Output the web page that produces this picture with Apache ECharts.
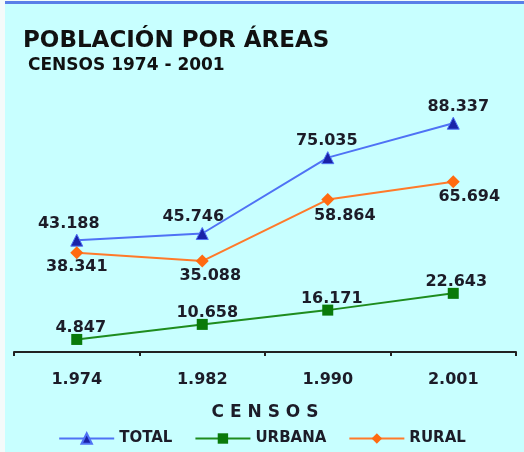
<!DOCTYPE html>
<html><head><meta charset="utf-8">
<script src="https://cdn.jsdelivr.net/npm/echarts@6/dist/echarts.min.js"></script>
<style>html,body{margin:0;padding:0;background:#f4fafa}#c{width:524px;height:452px}</style>
</head><body><div id="c"></div>
<script>
const categories = ['1.974', '1.982', '1.990', '2.001'];
const total = [43188, 45746, 75035, 88337];
const urbana = [4847, 10658, 16171, 22643];
const rural = [38341, 35088, 58864, 65694];
const seriesNames = ['TOTAL', 'URBANA', 'RURAL'];

const FONT = 'DejaVu Sans, Verdana, sans-serif';
const fmt = v => (v / 1000).toFixed(3);
const txt = '#1c1c28';
const labelBase = {show: true, color: txt, fontFamily: FONT, fontWeight: 'bold', fontSize: 16,
  formatter: p => fmt(p.value)};

// build data items with per-point label nudges (style only)
function withLabelShift(values, shifts) {
  return values.map((v, i) => ({value: v, label: {offset: shifts[i]}}));
}

const chart = echarts.init(document.getElementById('c'), null, {renderer: 'canvas'});
chart.setOption({
  backgroundColor: '#f4fafa',
  animation: false,
  graphic: [
    {type: 'rect', shape: {x: 5, y: 3, width: 519, height: 449}, style: {fill: '#c8ffff'}, z: -10},
    {type: 'rect', shape: {x: 5, y: 1, width: 519, height: 3}, style: {fill: '#5a7fe8'}, z: -9}
  ],
  title: [
    {text: 'POBLACIÓN POR ÁREAS', left: 18, top: 25,
     textStyle: {fontFamily: FONT, fontWeight: 'bold', fontSize: 23, color: '#111'}},
    {text: 'CENSOS 1974 - 2001', left: 23, top: 52,
     textStyle: {fontFamily: FONT, fontWeight: 'bold', fontSize: 17, color: '#111'}}
  ],
  legend: {
    bottom: 1, left: 'center', itemGap: 22, itemWidth: 55, itemHeight: 13,
    textStyle: {fontFamily: FONT, fontWeight: 'bold', fontSize: 15, color: txt},
    data: seriesNames
  },
  grid: {left: 14, right: 8, top: 93, bottom: 100},
  xAxis: {
    type: 'category', data: categories,
    name: 'C E N S O S', nameLocation: 'middle', nameGap: 52,
    nameTextStyle: {fontFamily: FONT, fontWeight: 'bold', fontSize: 17, color: txt},
    axisLine: {lineStyle: {color: '#222', width: 2}},
    axisTick: {show: true, length: 4, lineStyle: {color: '#222', width: 2}},
    axisLabel: {margin: 20, fontFamily: FONT, fontWeight: 'bold', fontSize: 16, color: txt}
  },
  yAxis: {type: 'value', min: 0, max: 100000, show: false, splitLine: {show: false}},
  series: [
    {name: seriesNames[0], type: 'line', symbol: 'triangle', symbolSize: 12,
     data: withLabelShift(total, [[-8, 0], [-9, 0], [-1, 0], [5, 0]]),
     lineStyle: {color: '#4f72f5', width: 2}, itemStyle: {color: '#1a22a8', borderColor: '#4f72f5', borderWidth: 1},
     label: Object.assign({}, labelBase, {position: 'top', distance: 2})},
    {name: seriesNames[1], type: 'line', symbol: 'rect', symbolSize: 11,
     data: withLabelShift(urbana, [[4, 0], [5, 0], [4, 0], [3, 0]]),
     lineStyle: {color: '#1e8c1e', width: 2}, itemStyle: {color: '#0a7a0a'},
     label: Object.assign({}, labelBase, {position: 'top', distance: -2})},
    {name: seriesNames[2], type: 'line', symbol: 'diamond', symbolSize: 13,
     data: withLabelShift(rural, [[0, 0], [8, 0], [17, 2], [16, 0]]),
     lineStyle: {color: '#ff7a2a', width: 2}, itemStyle: {color: '#ff6a10'},
     label: Object.assign({}, labelBase, {position: 'bottom', distance: 0})}
  ]
});
</script></body></html>
